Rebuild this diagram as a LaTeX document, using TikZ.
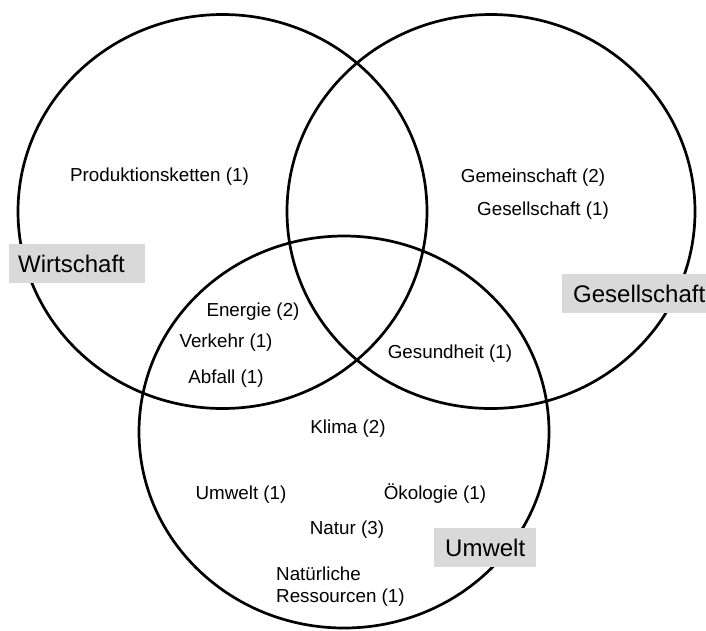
\documentclass[tikz,border=0pt]{standalone}
\usepackage{fontspec}
\setmainfont{Liberation Sans}
\usetikzlibrary{positioning}
\definecolor{boxgray}{RGB}{217,217,217}
\tikzset{
  ring/.style    = { line width=2.7pt, black },
  topic/.style   = { font=\fontsize{18.8}{22}\selectfont, inner sep=0pt },
  setname/.style = { fill=boxgray, font=\fontsize{24}{28}\selectfont,
                     anchor=north west, align=left,
                     minimum height=39pt, inner ysep=0pt }
}

\begin{document}
\begin{tikzpicture}
  [x=1pt, y=-1pt]
  \useasboundingbox (0,0) rectangle (706,630);
  % centres of the three sets
  \coordinate (wirt) at (222.5,211.5);
  \coordinate (gese) at (491,211.5);
  \coordinate (umw)  at (344,432);
  \draw[ring] (wirt) ellipse [x radius=204.5pt, y radius=197pt];
  \draw[ring] (gese) ellipse [x radius=204pt, y radius=197pt];
  \draw[ring] (umw)  ellipse [x radius=205pt, y radius=196pt];
  % names of the sets
  \node[setname, text width=118pt, inner xsep=9pt]  (wirtname) at (9,244)   {Wirtschaft};
  \node[setname, text width=122pt, inner xsep=11pt] (gesename) at (562,274) {Gesellschaft};
  \node[setname, text width=80pt,  inner xsep=11pt] (umwname)  at (434,528) {Umwelt};
  % topics
  \node[topic] (prod)  at (159.5,177) {Produktionsketten (1)};
  \node[topic] (gemein) at (533,178)  {Gemeinschaft (2)};
  \node[topic] (gesell) at (543,211)  {Gesellschaft (1)};
  \node[topic] (energie) at (253,312) {Energie (2)};
  \node[topic] (verkehr) at (226,343) {Verkehr (1)};
  \node[topic] (abfall)  at (226,379) {Abfall (1)};
  \node[topic] (gesund)  at (450,354) {Gesundheit (1)};
  \node[topic] (klima)   at (348,429) {Klima (2)};
  \node[topic] (umwelt)  at (241,495) {Umwelt (1)};
  \node[topic] (oeko)    at (435,494) {Ökologie (1)};
  \node[topic] (natur)   at (347,530) {Natur (3)};
  \node[topic, anchor=west, align=left] (natres) at (276,587) {Natürliche\\Ressourcen (1)};
\end{tikzpicture}
\end{document}
